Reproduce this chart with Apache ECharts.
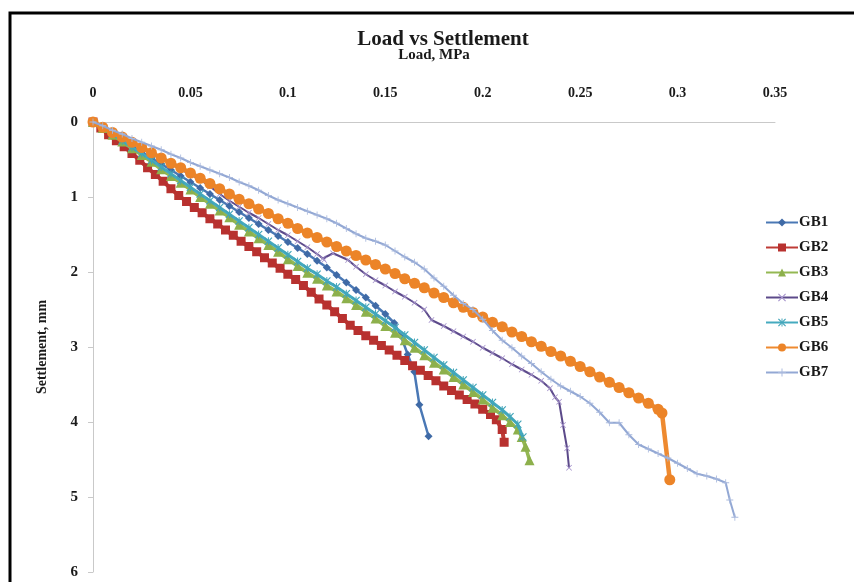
<!DOCTYPE html>
<html>
<head>
<meta charset="utf-8">
<script src="https://cdn.jsdelivr.net/npm/echarts@6/dist/echarts.min.js"></script>
<style>
html,body{margin:0;padding:0;background:#fff;}
#chart{width:854px;height:582px;}
</style>
</head>
<body>
<div id="chart"></div>
<script>
// ---- Data (Load in MPa, Settlement in mm) ----
var seriesNames = ['GB1','GB2','GB3','GB4','GB5','GB6','GB7'];
var xTicks = [0, 0.05, 0.1, 0.15, 0.2, 0.25, 0.3, 0.35];
var yTicks = [0, 1, 2, 3, 4, 5, 6];

var gb1Load = [0,.005,.010,.015,.020,.025,.030,.035,.040,.045,.050,.055,.060,.065,.070,.075,.080,.085,.090,.095,.100,.105,.110,.115,.120,.125,.130,.135,.140,.145,.150,.1546,.158,.1615,.1649,.1675,.1722];
var gb1Settle = [0,.08,.16,.24,.32,.40,.48,.56,.64,.72,.80,.88,.96,1.04,1.12,1.20,1.28,1.36,1.44,1.52,1.60,1.68,1.76,1.85,1.94,2.04,2.14,2.24,2.34,2.45,2.56,2.68,2.85,3.10,3.33,3.77,4.19];

var gb2Load = [0,.004,.008,.012,.016,.020,.024,.028,.032,.036,.040,.044,.048,.052,.056,.060,.064,.068,.072,.076,.080,.084,.088,.092,.096,.100,.104,.108,.112,.116,.120,.124,.128,.132,.136,.140,.144,.148,.152,.156,.160,.164,.168,.172,.176,.180,.184,.188,.192,.196,.200,.204,.207,.210,.211];
var gb2Settle = [0,.08,.17,.25,.33,.42,.51,.61,.70,.79,.89,.98,1.06,1.14,1.21,1.29,1.36,1.44,1.51,1.59,1.66,1.73,1.81,1.88,1.95,2.03,2.10,2.18,2.27,2.36,2.44,2.53,2.62,2.71,2.78,2.85,2.91,2.98,3.04,3.11,3.18,3.25,3.31,3.38,3.45,3.52,3.58,3.64,3.70,3.76,3.83,3.90,3.97,4.10,4.27];

var gb3Load = [0,.005,.010,.015,.020,.025,.030,.035,.040,.045,.050,.055,.060,.065,.070,.075,.080,.085,.090,.095,.100,.105,.110,.115,.120,.125,.130,.135,.140,.145,.150,.155,.160,.165,.170,.175,.180,.185,.190,.195,.200,.205,.210,.214,.218,.220,.222,.224];
var gb3Settle = [0,.08,.17,.26,.35,.44,.53,.63,.72,.81,.90,1.00,1.09,1.18,1.27,1.37,1.46,1.55,1.64,1.73,1.83,1.92,2.01,2.09,2.18,2.26,2.35,2.44,2.53,2.62,2.72,2.81,2.91,3.01,3.11,3.21,3.30,3.40,3.50,3.60,3.70,3.81,3.91,4.00,4.10,4.20,4.33,4.51];

var gb4Load = [0,.005,.010,.015,.020,.025,.030,.035,.040,.045,.050,.055,.060,.065,.070,.075,.080,.085,.090,.095,.100,.105,.110,.115,.118,.1186,.1232,.1309,.135,.140,.145,.150,.155,.160,.165,.170,.1737,.180,.185,.190,.195,.200,.205,.210,.215,.220,.225,.230,.2345,.2371,.2392,.2412,.2433,.2443];
var gb4Settle = [0,.07,.14,.21,.28,.35,.42,.49,.56,.63,.70,.77,.86,.96,1.05,1.13,1.21,1.28,1.36,1.44,1.51,1.59,1.67,1.76,1.82,1.84,1.75,1.84,1.93,2.03,2.11,2.18,2.26,2.33,2.41,2.50,2.64,2.72,2.79,2.86,2.93,3.01,3.08,3.15,3.23,3.30,3.37,3.45,3.55,3.67,3.73,4.04,4.35,4.61];

var gb5Load = [0,.005,.010,.015,.020,.025,.030,.035,.040,.045,.050,.055,.060,.065,.070,.075,.080,.085,.090,.095,.100,.105,.110,.115,.120,.125,.130,.135,.140,.145,.150,.155,.160,.165,.170,.175,.180,.185,.190,.195,.200,.205,.210,.214,.218,.2206];
var gb5Settle = [0,.08,.16,.25,.34,.42,.51,.60,.69,.78,.87,.96,1.05,1.14,1.23,1.32,1.41,1.50,1.59,1.68,1.77,1.86,1.95,2.03,2.12,2.20,2.29,2.38,2.47,2.56,2.65,2.74,2.84,2.94,3.04,3.14,3.24,3.34,3.44,3.54,3.64,3.74,3.84,3.93,4.03,4.20];

var gb6Load = [0,.005,.010,.015,.020,.025,.030,.035,.040,.045,.050,.055,.060,.065,.070,.075,.080,.085,.090,.095,.100,.105,.110,.115,.120,.125,.130,.135,.140,.145,.150,.155,.160,.165,.170,.175,.180,.185,.190,.195,.200,.205,.210,.215,.220,.225,.230,.235,.240,.245,.250,.255,.260,.265,.270,.275,.280,.285,.290,.292,.296];
var gb6Settle = [0,.07,.14,.20,.27,.34,.41,.48,.55,.61,.68,.75,.82,.89,.96,1.03,1.09,1.16,1.22,1.29,1.35,1.42,1.48,1.54,1.60,1.66,1.72,1.78,1.84,1.90,1.96,2.02,2.09,2.15,2.21,2.28,2.34,2.41,2.47,2.54,2.60,2.67,2.73,2.80,2.86,2.93,2.99,3.06,3.12,3.19,3.26,3.33,3.40,3.47,3.54,3.61,3.68,3.75,3.83,3.88,4.77];

var gb7Load = [0,.005,.010,.015,.020,.025,.030,.035,.040,.045,.050,.055,.060,.065,.070,.075,.080,.085,.090,.095,.100,.105,.110,.115,.120,.125,.130,.135,.140,.145,.150,.155,.160,.165,.170,.175,.180,.185,.190,.195,.200,.205,.210,.215,.220,.225,.230,.235,.240,.245,.250,.255,.260,.265,.270,.275,.280,.285,.290,.295,.300,.305,.310,.315,.320,.3247,.3268,.3294];
var gb7Settle = [0,.05,.11,.16,.22,.27,.32,.37,.43,.48,.54,.59,.64,.69,.74,.80,.85,.91,.98,1.04,1.09,1.14,1.19,1.24,1.29,1.35,1.42,1.49,1.55,1.59,1.64,1.72,1.80,1.87,1.96,2.08,2.19,2.31,2.42,2.50,2.63,2.78,2.91,3.01,3.12,3.22,3.33,3.43,3.52,3.59,3.66,3.75,3.87,4.01,4.01,4.17,4.30,4.36,4.42,4.48,4.55,4.62,4.69,4.72,4.76,4.81,5.04,5.27];

function pairs(a, b) { return a.map(function (v, i) { return [v, b[i]]; }); }

var SERIF = '"Liberation Serif", "DejaVu Serif", serif';
var symX = 'path://M1,0L5,4L9,0L10,1L6,5L10,9L9,10L5,6L1,10L0,9L4,5L0,1Z';
var symPlus = 'path://M4.4,0H5.6V4.4H10V5.6H5.6V10H4.4V5.6H0V4.4H4.4Z';
var symStar = 'path://M1,0L5,4L9,0L10,1L6,5L10,9L9,10L5,6L1,10L0,9L4,5L0,1Z M4.4,0V10H5.6V0Z';

var styles = [
  {data: pairs(gb1Load, gb1Settle), line: '#4A78B5', mark: '#3F6AA6', symbol: 'diamond', size: 8, width: 2.5},
  {data: pairs(gb2Load, gb2Settle), line: '#BE3B36', mark: '#B8312F', symbol: 'rect', size: 9, width: 4},
  {data: pairs(gb3Load, gb3Settle), line: '#94B853', mark: '#8DB04C', symbol: 'triangle', size: 10, width: 3.5},
  {data: pairs(gb4Load, gb4Settle), line: '#5C4A8A', mark: '#A694CC', symbol: symX, size: 6, width: 2},
  {data: pairs(gb5Load, gb5Settle), line: '#45AABF', mark: '#3FA3B8', symbol: symStar, size: 8, width: 3},
  {data: pairs(gb6Load, gb6Settle), line: '#EE8A30', mark: '#EC8428', symbol: 'circle', size: 11, width: 4.5},
  {data: pairs(gb7Load, gb7Settle), line: '#93A8D4', mark: '#A9B9DD', symbol: symPlus, size: 7, width: 2}
];

var series = seriesNames.map(function (n, i) {
  var s = styles[i];
  return {
    name: n,
    type: 'line',
    data: s.data,
    symbol: s.symbol,
    symbolSize: s.size,
    showAllSymbol: true,
    lineStyle: {color: s.line, width: s.width},
    itemStyle: {color: s.mark, borderWidth: 0},
    emphasis: {disabled: true},
    z: 2 + i
  };
});

var chart = echarts.init(document.getElementById('chart'), null, {renderer: 'canvas'});
chart.setOption({
  animation: false,
  backgroundColor: '#ffffff',
  title: {
    text: 'Load vs Settlement',
    left: 438, top: 24, textAlign: 'center',
    textStyle: {fontFamily: SERIF, fontWeight: 'bold', fontSize: 21, color: '#1a1a1a'}
  },
  graphic: [{
    type: 'rect', shape: {x: 10, y: 13, width: 900, height: 700},
    style: {fill: 'none', stroke: '#000', lineWidth: 3}, silent: true
  }],
  legend: {
    orient: 'vertical', left: 760, top: 210,
    itemWidth: 32, itemHeight: 10, itemGap: 10,
    textStyle: {fontFamily: SERIF, fontWeight: 'bold', fontSize: 15, color: '#1a1a1a', lineHeight: 14, padding: [0,0,0,-4]},
    data: seriesNames
  },
  grid: {left: 93, right: 79, top: 122, bottom: 10, containLabel: false},
  xAxis: {
    type: 'value', position: 'top', min: 0, max: 0.35, interval: 0.05,
    name: 'Load, MPa', nameLocation: 'middle', nameGap: 59,
    nameTextStyle: {fontFamily: SERIF, fontWeight: 'bold', fontSize: 15, color: '#1a1a1a'},
    axisLine: {show: true, lineStyle: {color: '#c9c9c9', width: 1}},
    axisTick: {show: false},
    splitLine: {show: false},
    axisLabel: {
      margin: 22, fontFamily: SERIF, fontWeight: 'bold', fontSize: 14, color: '#1a1a1a',
      formatter: function (v) { return String(+v.toFixed(2)); }
    }
  },
  yAxis: {
    type: 'value', inverse: true, min: 0, max: 6, interval: 1,
    name: 'Settlement, mm', nameLocation: 'middle', nameGap: 44, nameRotate: 90,
    nameTextStyle: {fontFamily: SERIF, fontWeight: 'bold', fontSize: 14, color: '#1a1a1a'},
    axisLine: {show: true, lineStyle: {color: '#c9c9c9', width: 1}},
    axisTick: {show: true, inside: false, length: 5, lineStyle: {color: '#c9c9c9'}},
    splitLine: {show: false},
    axisLabel: {margin: 15, fontFamily: SERIF, fontWeight: 'bold', fontSize: 15, color: '#1a1a1a'}
  },
  series: series
});
</script>
</body>
</html>
